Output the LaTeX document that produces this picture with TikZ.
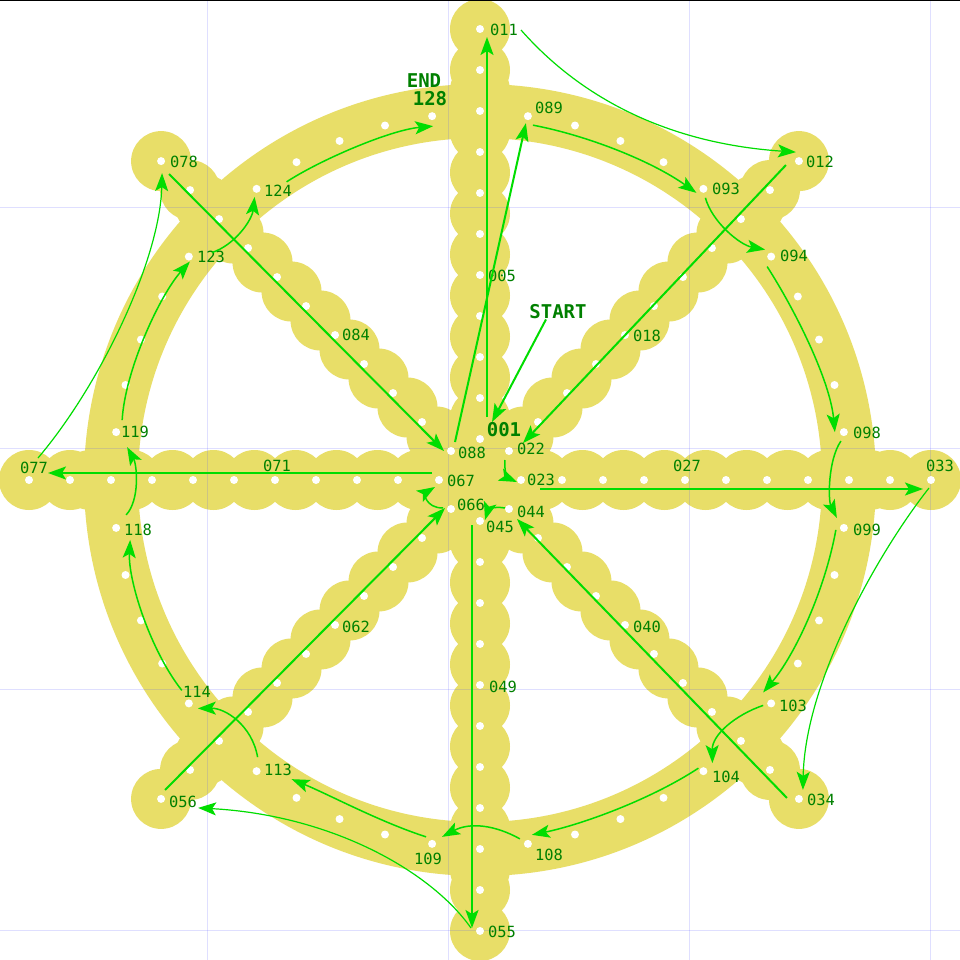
\documentclass[tikz,border=0pt]{standalone}
\usepackage{fontspec}
\newfontfamily\monofont{DejaVu Sans Mono}
\usetikzlibrary{arrows.meta}
\definecolor{wheel}{RGB}{232,222,104}
\definecolor{arrowgreen}{RGB}{0,221,0}
\definecolor{labelgreen}{RGB}{0,128,0}
\definecolor{gridblue}{RGB}{80,80,255}
\tikzset{
  dot/.style={circle, fill=white, draw=none, inner sep=0pt, minimum size=8pt},
  lbl/.style={text=labelgreen, inner sep=0pt, font=\fontsize{15.4}{18}\selectfont\monofont},
  blbl/.style={text=labelgreen, inner sep=0pt, font=\fontsize{19}{22}\selectfont\monofont\bfseries},
  arrtip/.style={-{Stealth[length=18pt,width=13pt,inset=4pt]}},
  arrS/.style={draw=arrowgreen, line width=2pt, arrtip},
  arrC/.style={draw=arrowgreen, line width=1.5pt, arrtip},
  arrT/.style={draw=arrowgreen, line width=1.2pt, arrtip},
  gridline/.style={draw=gridblue, opacity=0.18, line width=1pt}
}
\begin{document}
\begin{tikzpicture}[x=1pt,y=-1pt]
\useasboundingbox (0,0) rectangle (960,960);
\fill[white] (0,0) rectangle (960,960);
% wheel body
\draw[wheel, line width=54pt] (480,480) circle (369);
\fill[wheel] (480,480) circle (50);
\foreach \s in {0,...,7} {
  \foreach \k in {1,...,9} {
    \fill[wheel] ({480+(20.5+41*\k)*sin(45*\s)}, {480-(20.5+41*\k)*cos(45*\s)}) circle (30);
  }
  \fill[wheel] ({480+410*sin(45*\s)}, {480-410*cos(45*\s)}) circle (30);
  \fill[wheel] ({480+451*sin(45*\s)}, {480-451*cos(45*\s)}) circle (30);
}
% grid
\foreach \g in {207,448,689,930} {
  \draw[gridline] (\g,0) -- (\g,960);
  \draw[gridline] (0,\g) -- (960,\g);
}
\draw[black, line width=1pt] (0,0.5) -- (960,0.5);
% spoke holes
\foreach \s in {0,...,7} {
  \foreach \k in {1,...,11} {
    \pgfmathtruncatemacro\n{11*\s + (1-mod(\s,2))*\k + mod(\s,2)*(12-\k)}
    \node[dot] (p\n) at ({480+41*\k*sin(45*\s)}, {480-41*\k*cos(45*\s)}) {};
  }
}
% ring holes
\foreach \q in {0,...,7} {
  \foreach \j in {0,...,4} {
    \pgfmathtruncatemacro\n{89+5*\q+\j}
    \pgfmathsetmacro\a{45*\q+7.5*(\j+1)}
    \node[dot] (p\n) at ({480+367*sin(\a)}, {480-367*cos(\a)}) {};
  }
}
% labels
\node[blbl] (start) at (558,312) {START};
\node[blbl] (endlbl) at (424,81) {END};
\node[blbl] at (504,430) {001};
\node[blbl] at (430,99) {128};
\node[lbl] at (502,276) {005};
\node[lbl] at (504,30) {011};
\node[lbl] at (820,162) {012};
\node[lbl] at (647,336) {018};
\node[lbl] at (531,449) {022};
\node[lbl] at (541,480) {023};
\node[lbl] at (687,466) {027};
\node[lbl] at (940,466) {033};
\node[lbl] at (821,800) {034};
\node[lbl] at (647,627) {040};
\node[lbl] at (531,512) {044};
\node[lbl] at (500,527) {045};
\node[lbl] at (503,687) {049};
\node[lbl] at (502,932) {055};
\node[lbl] at (183,802) {056};
\node[lbl] at (356,627) {062};
\node[lbl] at (471,505) {066};
\node[lbl] at (461,481) {067};
\node[lbl] at (277,466) {071};
\node[lbl] at (34,468) {077};
\node[lbl] at (184,162) {078};
\node[lbl] at (356,335) {084};
\node[lbl] at (472,453) {088};
\node[lbl] at (549,108) {089};
\node[lbl] at (726,189) {093};
\node[lbl] at (794,256) {094};
\node[lbl] at (867,433) {098};
\node[lbl] at (867,530) {099};
\node[lbl] at (793,706) {103};
\node[lbl] at (726,777) {104};
\node[lbl] at (549,855) {108};
\node[lbl] at (428,859) {109};
\node[lbl] at (278,770) {113};
\node[lbl] at (197,692) {114};
\node[lbl] at (138,530) {118};
\node[lbl] at (135,432) {119};
\node[lbl] at (211,257) {123};
\node[lbl] at (278,191) {124};
% connectors
\draw[arrS] ([shift={(-12,0)}]start.south) -- ([shift={(12,-17)}]p1.center);
\draw[arrS] ([shift={(7,-22)}]p1.center) -- ([shift={(7,8)}]p11.center);
\draw[arrT] ([shift={(41,1)}]p11.center) .. controls (565,80) and (645,142) .. ([shift={(-3,-9)}]p12.center);
\draw[arrS] ([shift={(-13,4)}]p12.center) -- ([shift={(14,-8)}]p22.center);
\draw[arrC] ([shift={(-4,9)}]p22.center) .. controls (504,472) and (508,478) .. ([shift={(-4,2)}]p23.center);
\draw[arrS] ([shift={(19,9)}]p23.center) -- ([shift={(-8,9)}]p33.center);
\draw[arrT] ([shift={(-2,8)}]p33.center) .. controls (880,550) and (805,680) .. ([shift={(4,-9)}]p34.center);
\draw[arrS] ([shift={(-12,-1)}]p34.center) -- ([shift={(8,10)}]p44.center);
\draw[arrC] ([shift={(-4,-1)}]p44.center) .. controls (493,506) and (488,510) .. ([shift={(5,-1)}]p45.center);
\draw[arrS] ([shift={(-8,4)}]p45.center) -- ([shift={(-8,-3)}]p55.center);
\draw[arrT] ([shift={(-9,-3)}]p55.center) .. controls (430,870) and (330,815) .. ([shift={(37,9)}]p56.center);
\draw[arrS] ([shift={(4,-9)}]p56.center) -- ([shift={(-6,-1)}]p66.center);
\draw[arrC] ([shift={(-8,-1)}]p66.center) .. controls (425,508) and (425,493) .. ([shift={(-4,7)}]p67.center);
\draw[arrS] ([shift={(-7,-7)}]p67.center) -- ([shift={(19,-7)}]p77.center);
\draw[arrT] ([shift={(9,-22)}]p77.center) .. controls (100,385) and (160,260) .. ([shift={(1,12)}]p78.center);
\draw[arrS] ([shift={(8,13)}]p78.center) -- ([shift={(-7,0)}]p88.center);
\draw[arrS] ([shift={(4,-9)}]p88.center) -- ([shift={(-2,7)}]p89.center);
\draw[arrC] ([shift={(5,9)}]p89.center) .. controls (585,135) and (650,160) .. ([shift={(-7,4)}]p93.center);
\draw[arrC] ([shift={(2,9)}]p93.center) .. controls (712,222) and (740,245) .. ([shift={(-6,-7)}]p94.center);
\draw[arrC] ([shift={(-4,10)}]p94.center) .. controls (795,310) and (830,380) .. ([shift={(-9,0)}]p98.center);
\draw[arrC] ([shift={(-3,9)}]p98.center) .. controls (828,460) and (828,500) .. ([shift={(-7,-10)}]p99.center);
\draw[arrC] ([shift={(-8,2)}]p99.center) .. controls (825,590) and (795,655) .. ([shift={(-8,-11)}]p103.center);
\draw[arrC] ([shift={(-8,2)}]p103.center) .. controls (735,715) and (712,735) .. ([shift={(9,-8)}]p104.center);
\draw[arrC] ([shift={(-5,-3)}]p104.center) .. controls (650,800) and (580,825) .. ([shift={(4,-9)}]p108.center);
\draw[arrC] ([shift={(-8,-5)}]p108.center) .. controls (495,825) and (470,822) .. ([shift={(10,-7)}]p109.center);
\draw[arrC] ([shift={(-6,-7)}]p109.center) .. controls (380,822) and (330,795) .. ([shift={(35,8)}]p113.center);
\draw[arrC] ([shift={(1,-14)}]p113.center) .. controls (252,725) and (225,708) .. ([shift={(9,5)}]p114.center);
\draw[arrC] ([shift={(-7,-13)}]p114.center) .. controls (150,650) and (128,580) .. ([shift={(14,12)}]p118.center);
\draw[arrC] ([shift={(10,-13)}]p118.center) .. controls (140,500) and (137,465) .. ([shift={(11,15)}]p119.center);
\draw[arrC] ([shift={(6,-12)}]p119.center) .. controls (125,370) and (160,295) .. ([shift={(1,5)}]p123.center);
\draw[arrC] ([shift={(23,-4)}]p123.center) .. controls (235,245) and (252,220) .. ([shift={(-2,8)}]p124.center);
\draw[arrC] ([shift={(30,-7)}]p124.center) .. controls (320,160) and (390,130) .. ([shift={(1,10)}]p128.center);
\end{tikzpicture}
\end{document}
